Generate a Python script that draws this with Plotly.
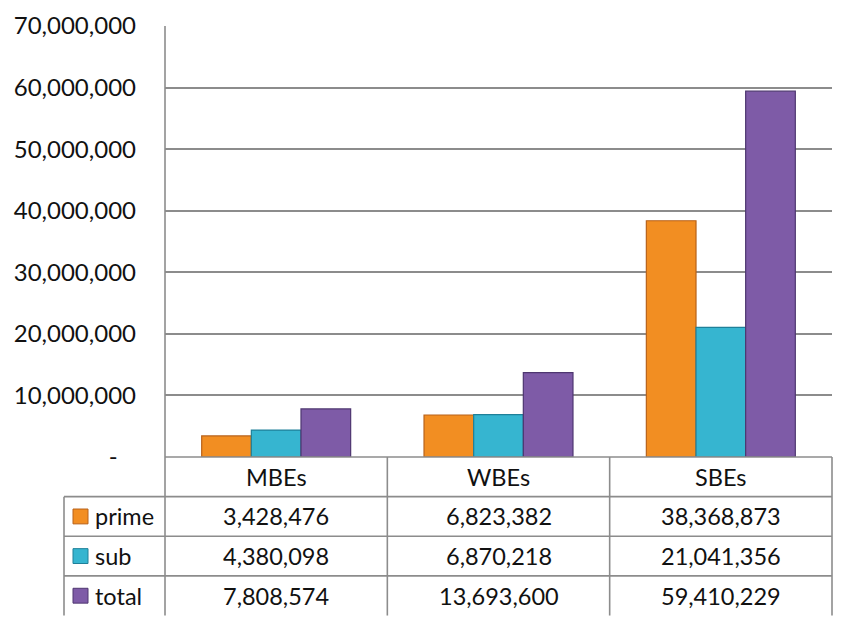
import plotly.graph_objects as go

categories = ["MBEs", "WBEs", "SBEs"]
series_names = ["prime", "sub", "total"]
prime = [3428476, 6823382, 38368873]
sub = [4380098, 6870218, 21041356]
total = [7808574, 13693600, 59410229]
series_values = [prime, sub, total]
colors = ["#F28E22", "#36B5D0", "#7E5BA7"]
edge_colors = ["#B8621A", "#1F8099", "#4E3670"]
y_ticks = [0, 10000000, 20000000, 30000000, 40000000, 50000000, 60000000, 70000000]

FONT = "Lato, 'Open Sans', sans-serif"
TXT = "#111111"
FS = 23.5
W, H = 842, 617
L, R, T, B = 165, 10, 22, 160
pw, ph = W - L - R, H - T - B
row_px = 40

def ypaper(pixel_y):
    return (H - B - pixel_y) / ph

def xpaper(pixel_x):
    return (pixel_x - L) / pw

fig = go.Figure()
for name, vals, c, ec in zip(series_names, series_values, colors, edge_colors):
    fig.add_trace(go.Bar(x=categories, y=vals, name=name,
                         marker=dict(color=c, line=dict(color=ec, width=1.2))))

ticktext = ["-\u00a0\u00a0\u00a0" if v == 0 else f"{v:,}" for v in y_ticks]

fig.update_layout(
    width=W, height=H,
    margin=dict(l=L, r=R, t=T, b=B),
    paper_bgcolor="white", plot_bgcolor="white",
    barmode="group", bargap=0.33, bargroupgap=0,
    showlegend=False,
    font=dict(family=FONT, color=TXT),
    xaxis=dict(showticklabels=False, showgrid=False, zeroline=False, showline=False,
               ticks=""),
    yaxis=dict(range=[0, 70000000], tickvals=y_ticks, ticktext=ticktext,
               tickfont=dict(size=FS + 0.5, family=FONT, color=TXT),
               showgrid=True, gridcolor="#8C8C8C", gridwidth=1.6,
               zeroline=False, showline=False, ticks="", ticklabelstandoff=28),
)

line_style = dict(color="#8C8C8C", width=1.6)
shapes = []
y_bottom = ypaper(H)
shapes.append(dict(type="line", xref="paper", yref="paper", x0=0, x1=0, y0=1, y1=y_bottom, line=line_style))
shapes.append(dict(type="line", xref="paper", yref="paper", x0=0, x1=1, y0=0, y1=0, line=line_style))
for i in range(1, 4):
    yy = ypaper(H - B + i * row_px)
    shapes.append(dict(type="line", xref="paper", yref="paper", x0=xpaper(64), x1=1, y0=yy, y1=yy, line=line_style))
for k in range(1, 4):
    xx = k / 3
    shapes.append(dict(type="line", xref="paper", yref="paper", x0=xx, x1=xx, y0=0, y1=y_bottom, line=line_style))
shapes.append(dict(type="line", xref="paper", yref="paper", x0=xpaper(64), x1=xpaper(64),
                   y0=ypaper(H - B + row_px), y1=y_bottom, line=line_style))

annotations = []
for cat in categories:
    annotations.append(dict(x=cat, xref="x", y=ypaper(H - B + row_px / 2), yref="paper",
                            text=cat, showarrow=False, font=dict(size=FS, family=FONT, color=TXT),
                            xanchor="center", yanchor="middle"))
for r, (name, vals, c, ec) in enumerate(zip(series_names, series_values, colors, edge_colors)):
    yc = ypaper(H - B + row_px * (r + 1) + row_px / 2)
    for cat, v in zip(categories, vals):
        annotations.append(dict(x=cat, xref="x", y=yc, yref="paper", text=f"{v:,}",
                                showarrow=False, font=dict(size=FS, family=FONT, color=TXT),
                                xanchor="center", yanchor="middle"))
    annotations.append(dict(x=xpaper(93), xref="paper", y=yc, yref="paper", text=name,
                            showarrow=False, font=dict(size=FS, family=FONT, color=TXT),
                            xanchor="left", yanchor="middle"))
    shapes.append(dict(type="rect", xref="paper", yref="paper",
                       x0=xpaper(73), x1=xpaper(88),
                       y0=yc - 7.5 / ph, y1=yc + 7.5 / ph,
                       fillcolor=c, line=dict(color=ec, width=1)))

fig.update_layout(shapes=shapes, annotations=annotations)
fig.write_html("out.html", config={"displayModeBar": False})

with open("out.html", "r", encoding="utf-8") as f:
    html = f.read()
html = html.replace("<head>", "<head><style>html,body{margin:0;padding:0;overflow:hidden;}</style>", 1)
with open("out.html", "w", encoding="utf-8") as f:
    f.write(html)
